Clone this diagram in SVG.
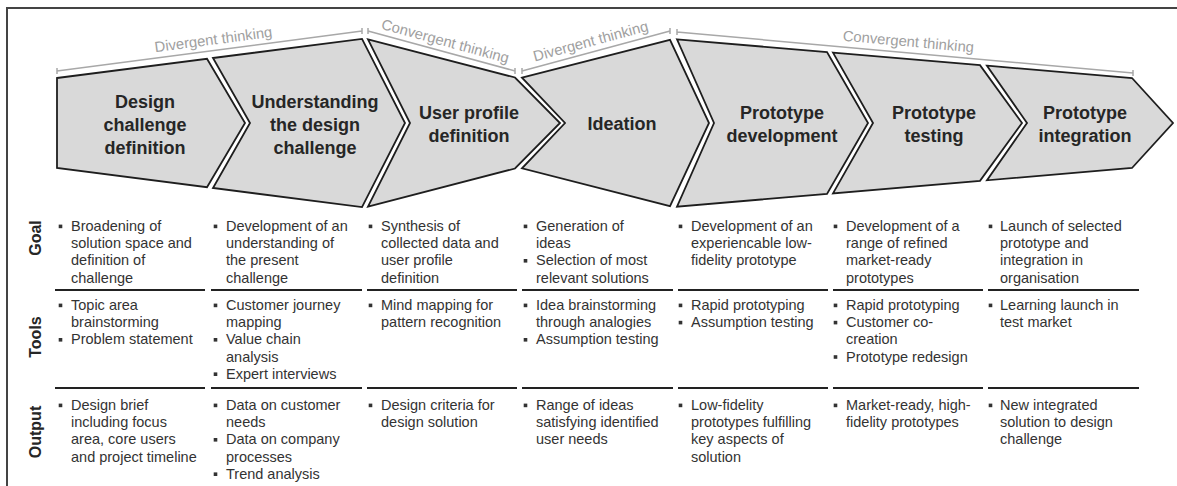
<svg xmlns="http://www.w3.org/2000/svg" width="1177" height="486" viewBox="0 0 1177 486">
<defs>
<style>
.chev{fill:#d9d9d9;stroke:#1e1e1e;stroke-width:1.8;stroke-linejoin:miter}
.ct{font-family:"Liberation Sans",Arial,sans-serif;font-weight:bold;font-size:18px;fill:#262626;text-anchor:middle}
.br{stroke:#a8a8a8;stroke-width:1.5;fill:none}
.bt{font-family:"Liberation Sans",Arial,sans-serif;font-size:14.8px;fill:#a0a0a0;text-anchor:middle}
.rl{font-family:"Liberation Sans",Arial,sans-serif;font-weight:bold;font-size:16px;fill:#262626;text-anchor:middle}
.tx{font-family:"Liberation Sans",Arial,sans-serif;font-size:14.5px;fill:#333}
.sep{stroke:#222;stroke-width:2.2}
.bul{fill:#333}
.frame{fill:none;stroke:#444;stroke-width:2}
</style>
<rect id="b" class="bul" width="3.6" height="3.6"/>
</defs>
<rect width="1177" height="486" fill="#fff"/>
<rect class="frame" x="7" y="8" width="1200" height="500"/>

<g id="brackets">
<path class="br" d="M57,71 L362,31 M57,68 V74 M362,28 V34"/>
<text class="bt" transform="translate(214,44.5) rotate(-7.5)">Divergent thinking</text>
<path class="br" d="M368,31 L515,71 M368,28 V34 M515,68 V74"/>
<text class="bt" transform="translate(444,46) rotate(15.2)">Convergent thinking</text>
<path class="br" d="M522,71 L670,31 M522,68 V74 M670,28 V34"/>
<text class="bt" transform="translate(592,46) rotate(-15.1)">Divergent thinking</text>
<path class="br" d="M677,32 L1133,73 M677,29 V35 M1133,70 V76"/>
<text class="bt" transform="translate(908,46.5) rotate(5.1)">Convergent thinking</text>
</g>

<g id="phase1">
<polygon class="chev" points="57,78 207,58.8 245,123 207,187.2 57,168"/>
<text class="ct"><tspan x="145" y="107.5">Design</tspan><tspan x="145" y="130.5">challenge</tspan><tspan x="145" y="153.5">definition</tspan></text>
</g>
<g id="phase2">
<polygon class="chev" points="213,58 362,38.9 405,123 362,207.1 213,188 250,123"/>
<text class="ct"><tspan x="315" y="107.5">Understanding</tspan><tspan x="315" y="130.5">the design</tspan><tspan x="315" y="153.5">challenge</tspan></text>
</g>
<g id="phase3">
<polygon class="chev" points="368,39.3 515,77.5 560,123 515,168.5 368,206.7 410,123"/>
<text class="ct"><tspan x="469" y="118.5">User profile</tspan><tspan x="469" y="141.5">definition</tspan></text>
</g>
<g id="phase4">
<polygon class="chev" points="522,77.7 670,39.8 709,123 670,206.2 522,168.3 565,123"/>
<text class="ct" x="622" y="129.5">Ideation</text>
</g>
<g id="phase5">
<polygon class="chev" points="677,39.3 827,52.1 868,123 827,193.9 677,206.7 714,123"/>
<text class="ct"><tspan x="782" y="118.5">Prototype</tspan><tspan x="782" y="141.5">development</tspan></text>
</g>
<g id="phase6">
<polygon class="chev" points="833,52.6 980,65.1 1022,123 980,180.9 833,193.4 873,123"/>
<text class="ct"><tspan x="934" y="118.5">Prototype</tspan><tspan x="934" y="141.5">testing</tspan></text>
</g>
<g id="phase7">
<polygon class="chev" points="987,65.7 1132,78 1173,123 1132,168 987,180.3 1027,123"/>
<text class="ct"><tspan x="1085" y="118.5">Prototype</tspan><tspan x="1085" y="141.5">integration</tspan></text>
</g>

<g id="row-labels">
<text class="rl" transform="translate(41,238) rotate(-90)">Goal</text>
<text class="rl" transform="translate(41,337) rotate(-90)">Tools</text>
<text class="rl" transform="translate(41,432) rotate(-90)">Output</text>
</g>

<g id="separators">
<path class="sep" d="M55,290 H205 M211,290 H362 M367,290 H517 M522,290 H673 M678,290 H828 M833,290 H983 M988,290 H1139"/>
<path class="sep" d="M55,388 H205 M211,388 H362 M367,388 H517 M522,388 H673 M678,388 H828 M833,388 H983 M988,388 H1139"/>
</g>

<g id="col1">
<use href="#b" x="58.7" y="224.6"/>
<text class="tx"><tspan x="71" y="231">Broadening of</tspan><tspan x="71" y="248.2">solution space and</tspan><tspan x="71" y="265.4">definition of</tspan><tspan x="71" y="282.6">challenge</tspan></text>
<use href="#b" x="58.7" y="303.6"/><use href="#b" x="58.7" y="338"/>
<text class="tx"><tspan x="71" y="310">Topic area</tspan><tspan x="71" y="327.2">brainstorming</tspan><tspan x="71" y="344.4">Problem statement</tspan></text>
<use href="#b" x="58.7" y="403.6"/>
<text class="tx"><tspan x="71" y="410">Design brief</tspan><tspan x="71" y="427.2">including focus</tspan><tspan x="71" y="444.4">area, core users</tspan><tspan x="71" y="461.6">and project timeline</tspan></text>
</g>

<g id="col2">
<use href="#b" x="213.7" y="224.6"/>
<text class="tx"><tspan x="226" y="231">Development of an</tspan><tspan x="226" y="248.2">understanding of</tspan><tspan x="226" y="265.4">the present</tspan><tspan x="226" y="282.6">challenge</tspan></text>
<use href="#b" x="213.7" y="303.6"/><use href="#b" x="213.7" y="338"/><use href="#b" x="213.7" y="372.4"/>
<text class="tx"><tspan x="226" y="310">Customer journey</tspan><tspan x="226" y="327.2">mapping</tspan><tspan x="226" y="344.4">Value chain</tspan><tspan x="226" y="361.6">analysis</tspan><tspan x="226" y="378.8">Expert interviews</tspan></text>
<use href="#b" x="213.7" y="403.6"/><use href="#b" x="213.7" y="438"/><use href="#b" x="213.7" y="472.4"/>
<text class="tx"><tspan x="226" y="410">Data on customer</tspan><tspan x="226" y="427.2">needs</tspan><tspan x="226" y="444.4">Data on company</tspan><tspan x="226" y="461.6">processes</tspan><tspan x="226" y="478.8">Trend analysis</tspan></text>
</g>

<g id="col3">
<use href="#b" x="368.7" y="224.6"/>
<text class="tx"><tspan x="381" y="231">Synthesis of</tspan><tspan x="381" y="248.2">collected data and</tspan><tspan x="381" y="265.4">user profile</tspan><tspan x="381" y="282.6">definition</tspan></text>
<use href="#b" x="368.7" y="303.6"/>
<text class="tx"><tspan x="381" y="310">Mind mapping for</tspan><tspan x="381" y="327.2">pattern recognition</tspan></text>
<use href="#b" x="368.7" y="403.6"/>
<text class="tx"><tspan x="381" y="410">Design criteria for</tspan><tspan x="381" y="427.2">design solution</tspan></text>
</g>

<g id="col4">
<use href="#b" x="523.7" y="224.6"/><use href="#b" x="523.7" y="259"/>
<text class="tx"><tspan x="536" y="231">Generation of</tspan><tspan x="536" y="248.2">ideas</tspan><tspan x="536" y="265.4">Selection of most</tspan><tspan x="536" y="282.6">relevant solutions</tspan></text>
<use href="#b" x="523.7" y="303.6"/><use href="#b" x="523.7" y="338"/>
<text class="tx"><tspan x="536" y="310">Idea brainstorming</tspan><tspan x="536" y="327.2">through analogies</tspan><tspan x="536" y="344.4">Assumption testing</tspan></text>
<use href="#b" x="523.7" y="403.6"/>
<text class="tx"><tspan x="536" y="410">Range of ideas</tspan><tspan x="536" y="427.2">satisfying identified</tspan><tspan x="536" y="444.4">user needs</tspan></text>
</g>

<g id="col5">
<use href="#b" x="678.7" y="224.6"/>
<text class="tx"><tspan x="691" y="231">Development of an</tspan><tspan x="691" y="248.2">experiencable low-</tspan><tspan x="691" y="265.4">fidelity prototype</tspan></text>
<use href="#b" x="678.7" y="303.6"/><use href="#b" x="678.7" y="320.8"/>
<text class="tx"><tspan x="691" y="310">Rapid prototyping</tspan><tspan x="691" y="327.2">Assumption testing</tspan></text>
<use href="#b" x="678.7" y="403.6"/>
<text class="tx"><tspan x="691" y="410">Low-fidelity</tspan><tspan x="691" y="427.2">prototypes fulfilling</tspan><tspan x="691" y="444.4">key aspects of</tspan><tspan x="691" y="461.6">solution</tspan></text>
</g>

<g id="col6">
<use href="#b" x="833.7" y="224.6"/>
<text class="tx"><tspan x="846" y="231">Development of a</tspan><tspan x="846" y="248.2">range of refined</tspan><tspan x="846" y="265.4">market-ready</tspan><tspan x="846" y="282.6">prototypes</tspan></text>
<use href="#b" x="833.7" y="303.6"/><use href="#b" x="833.7" y="320.8"/><use href="#b" x="833.7" y="355.2"/>
<text class="tx"><tspan x="846" y="310">Rapid prototyping</tspan><tspan x="846" y="327.2">Customer co-</tspan><tspan x="846" y="344.4">creation</tspan><tspan x="846" y="361.6">Prototype redesign</tspan></text>
<use href="#b" x="833.7" y="403.6"/>
<text class="tx"><tspan x="846" y="410">Market-ready, high-</tspan><tspan x="846" y="427.2">fidelity prototypes</tspan></text>
</g>

<g id="col7">
<use href="#b" x="988.7" y="224.6"/>
<text class="tx"><tspan x="1000" y="231">Launch of selected</tspan><tspan x="1000" y="248.2">prototype and</tspan><tspan x="1000" y="265.4">integration in</tspan><tspan x="1000" y="282.6">organisation</tspan></text>
<use href="#b" x="988.7" y="303.6"/>
<text class="tx"><tspan x="1000" y="310">Learning launch in</tspan><tspan x="1000" y="327.2">test market</tspan></text>
<use href="#b" x="988.7" y="403.6"/>
<text class="tx"><tspan x="1000" y="410">New integrated</tspan><tspan x="1000" y="427.2">solution to design</tspan><tspan x="1000" y="444.4">challenge</tspan></text>
</g>
</svg>
